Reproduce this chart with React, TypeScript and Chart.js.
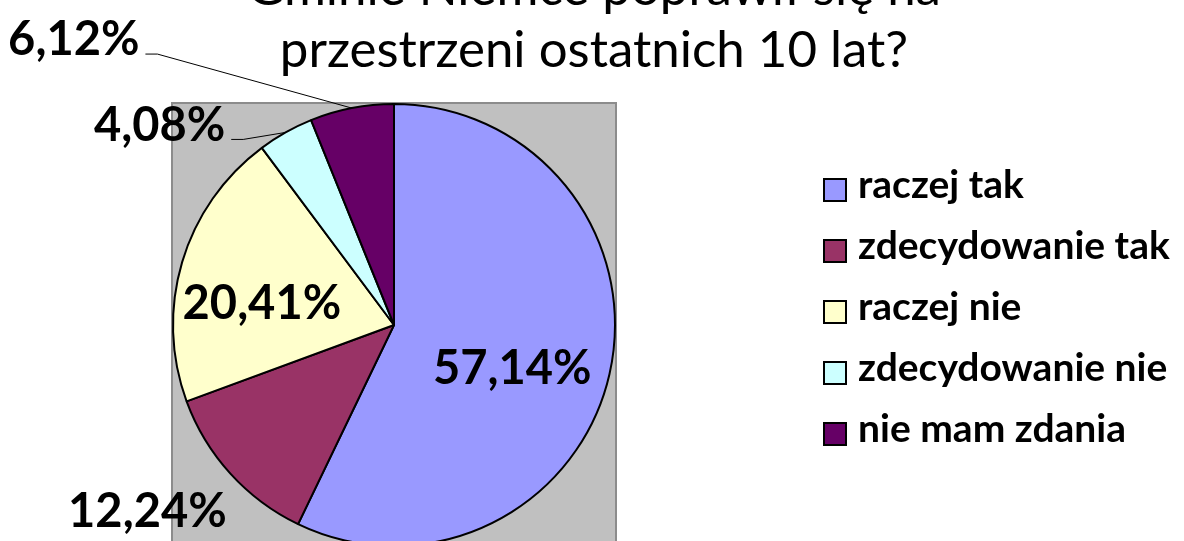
import React, { useEffect, useRef } from "react";
import { Chart, registerables } from "chart.js";

Chart.register(...registerables);

const titleLines = ["Gminie Niemce poprawił się na", "przestrzeni ostatnich 10 lat?"];
const categories = ["raczej tak", "zdecydowanie tak", "raczej nie", "zdecydowanie nie", "nie mam zdania"];
const values = [57.14, 12.24, 20.41, 4.08, 6.12];
const valueLabels = ["57,14%", "12,24%", "20,41%", "4,08%", "6,12%"];
const colors = ["#9999FF", "#993366", "#FFFFCC", "#CCFFFF", "#660066"];

// label placement styles (relative to each slice's geometry)
const labelPlacement = [
  { mode: "in", f: 0.6, dx: -11, dy: 14, leader: false },
  { mode: "out", f: 1, dx: -83, dy: 38, leader: false },
  { mode: "in", f: 0.6, dx: -5, dy: 17, leader: false },
  { mode: "out", f: 1, dx: -126, dy: -7, leader: true },
  { mode: "out", f: 1, dx: -278, dy: -68, leader: true },
];

const FONT = "Lato, 'Open Sans', 'Noto Sans', sans-serif";

const decorPlugin = {
  id: "decor",
  beforeDatasetsDraw(chart: any) {
    const { ctx, chartArea } = chart;
    ctx.save();
    ctx.fillStyle = "#C0C0C0";
    const w = chartArea.right - chartArea.left;
    ctx.fillRect(chartArea.left, chartArea.top, w, chart.height - chartArea.top + 10);
    ctx.strokeStyle = "#8C8C8C";
    ctx.lineWidth = 2;
    ctx.strokeRect(chartArea.left, chartArea.top, w, chart.height - chartArea.top + 10);
    ctx.restore();
  },
  afterDatasetsDraw(chart: any) {
    const { ctx } = chart;
    const meta = chart.getDatasetMeta(0);
    ctx.save();
    ctx.font = `bold 47px ${FONT}`;
    ctx.fillStyle = "#000";
    ctx.textAlign = "center";
    ctx.textBaseline = "middle";
    meta.data.forEach((arc: any, i: number) => {
      const p = arc.getProps(["x", "y", "startAngle", "endAngle", "outerRadius"], true);
      const mid = (p.startAngle + p.endAngle) / 2;
      const pl = labelPlacement[i];
      const ex = p.x + Math.cos(mid) * p.outerRadius * pl.f;
      const ey = p.y + Math.sin(mid) * p.outerRadius * pl.f;
      const lx = ex + pl.dx;
      const ly = ey + pl.dy;
      ctx.fillText(valueLabels[i], lx, ly);
      if (pl.leader) {
        const tw = ctx.measureText(valueLabels[i]).width;
        const sx = lx + tw / 2 + 6;
        const sy = ly + 14;
        ctx.save();
        ctx.strokeStyle = "#000";
        ctx.lineWidth = 1;
        ctx.beginPath();
        ctx.moveTo(sx, sy);
        ctx.lineTo(sx + 12, sy);
        ctx.lineTo(p.x + Math.cos(mid) * p.outerRadius, p.y + Math.sin(mid) * p.outerRadius);
        ctx.stroke();
        ctx.restore();
      }
    });
    ctx.restore();
  },
  afterDraw(chart: any) {
    const { ctx } = chart;
    ctx.save();
    // title
    ctx.fillStyle = "#000";
    ctx.font = `51px ${FONT}`;
    ctx.textAlign = "center";
    ctx.textBaseline = "alphabetic";
    const baselines = [5, 67];
    titleLines.forEach((t, i) => ctx.fillText(t, 594, baselines[i]));
    // legend
    ctx.font = `bold 39px ${FONT}`;
    ctx.textAlign = "left";
    ctx.textBaseline = "alphabetic";
    categories.forEach((c, i) => {
      const yc = 190 + i * 61;
      ctx.fillStyle = colors[i];
      ctx.fillRect(824, yc - 11, 22, 22);
      ctx.strokeStyle = "#000";
      ctx.lineWidth = 2;
      ctx.strokeRect(824, yc - 11, 22, 22);
      ctx.fillStyle = "#000";
      ctx.fillText(c, 858, yc + 8);
    });
    ctx.restore();
  },
};

export default function App() {
  const ref = useRef<HTMLCanvasElement>(null);
  useEffect(() => {
    if (!ref.current) return;
    const chart = new Chart(ref.current, {
      type: "pie",
      data: {
        labels: categories,
        datasets: [
          {
            data: values,
            backgroundColor: colors,
            borderColor: "#000",
            borderWidth: 2,
          },
        ],
      },
      options: {
        responsive: false,
        animation: false,
        devicePixelRatio: 1,
        layout: { padding: { left: 172, right: 568, top: 103, bottom: 53 } },
        plugins: {
          legend: { display: false },
          title: { display: false },
          tooltip: { enabled: false },
        },
      },
      plugins: [decorPlugin],
    });
    return () => chart.destroy();
  }, []);
  return (
    <div style={{ position: "fixed", left: 0, top: 0, width: 1184, height: 541, overflow: "hidden", background: "#fff" }}>
      <canvas ref={ref} width={1184} height={600} style={{ width: 1184, height: 600, display: "block" }} />
    </div>
  );
}
